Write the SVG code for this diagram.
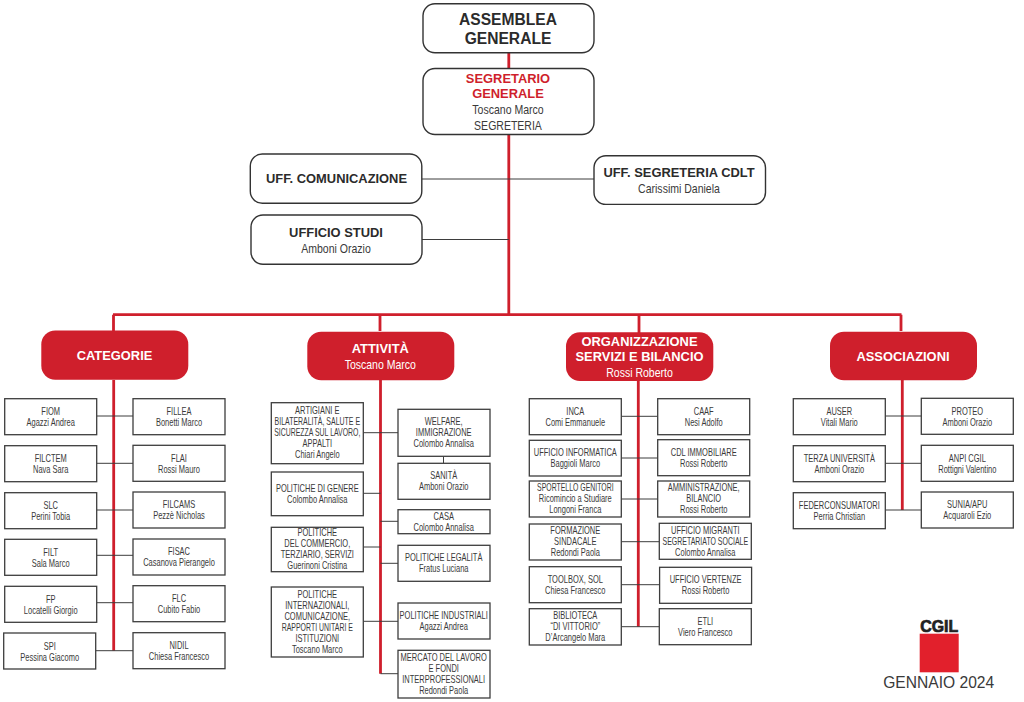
<svg xmlns="http://www.w3.org/2000/svg" width="1024" height="702" viewBox="0 0 1024 702">
<style>
text{font-family:"Liberation Sans",Arial,sans-serif;text-anchor:middle;fill:#3a3a3a}
.top{fill:#fff;stroke:#333;stroke-width:1.4}
.head{fill:#cf1f2c}
.box{fill:#fff;stroke:#3d3d3d;stroke-width:1.3}
.red{stroke:#cf1f2c;stroke-width:2.8;fill:none}
.thin{stroke:#3d3d3d;stroke-width:1;fill:none}
.s{font-size:10px}
.b{font-weight:bold;font-size:12.9px;fill:#2b2b2b}
.xb{font-weight:bold;font-size:15.6px;fill:#2b2b2b}
.n{font-size:13px}
.w{fill:#fff}
.r{fill:#cf1f2c}
</style>
<g id="connectors">
<path class="red" d="M508.8 52V314.7M113 314.7H901.5M113.5 314.7V331M380 314.7V331M639 314.7V333M901 314.7V331"/>
<path class="red" d="M113.7 380V650.7M380.5 380V673.7M638.3 381V626.7M902.3 380V510"/>
<path class="thin" d="M422 179H594M422 239.5H508.8"/>
<path class="thin" d="M96.7 416H133M96.7 463.3H133M96.7 510H133M96.7 555.3H133M96.7 602.7H133M95.7 650.7H133"/>
<path class="thin" d="M363.3 432.7H398M363.3 493.3H380.5M363.3 547H380.5M363.3 621.3H398M380.5 521.3H398M380.5 563.3H398M380.5 673.7H398M443.5 456.3V463.3"/>
<path class="thin" d="M621.3 416.3H657.7M621.3 458H657.7M621.3 499H657.7M621.3 541.7H659.3M621.3 584.7H659.6M621.3 626.7H659.3"/>
<path class="thin" d="M885.3 416H921.3M885.3 463.3H921.3M885.3 510H921.3"/>
</g>
<g id="assemblea"><rect class="top" x="423" y="3.7" width="171" height="49" rx="12"/><text class="xb" x="508" y="24.5">ASSEMBLEA</text><text class="xb" x="508" y="43.5">GENERALE</text></g>
<g id="segretario"><rect class="top" x="423" y="68.5" width="171" height="66" rx="12"/><text class="b r" x="508" y="82.7">SEGRETARIO</text><text class="b r" x="508" y="98.3">GENERALE</text><g transform="translate(508 0) scale(.81 1)"><text class="n" y="114.3">Toscano Marco</text><text class="n" y="130">SEGRETERIA</text></g></g>
<g id="uff-comunicazione"><rect class="top" x="250.3" y="154" width="171.5" height="49.3" rx="12"/><text class="b" x="336.5" y="183.3">UFF. COMUNICAZIONE</text></g>
<g id="uff-segreteria"><rect class="top" x="594" y="155.7" width="171.5" height="48.7" rx="12"/><text class="b" x="679" y="177.3">UFF. SEGRETERIA CDLT</text><g transform="translate(679 0) scale(.81 1)"><text class="n" y="192.7">Carissimi Daniela</text></g></g>
<g id="ufficio-studi"><rect class="top" x="251" y="215" width="171" height="49.3" rx="12"/><text class="b" x="336" y="236.7">UFFICIO STUDI</text><g transform="translate(336 0) scale(.81 1)"><text class="n" y="252.7">Amboni Orazio</text></g></g>

<g id="categorie"><rect class="head" x="41.3" y="330.5" width="147" height="49.3" rx="14"/><text class="b w" x="114.5" y="360">CATEGORIE</text></g>
<g id="attivita"><rect class="head" x="307.3" y="331.7" width="147" height="48.6" rx="14"/><text class="b w" x="380.3" y="353">ATTIVITÀ</text><g transform="translate(380.3 0) scale(.81 1)"><text class="n w" y="369">Toscano Marco</text></g></g>
<g id="organizzazione"><rect class="head" x="566" y="332.3" width="147.3" height="48.7" rx="14"/><text class="b w" x="639.5" y="346">ORGANIZZAZIONE</text><text class="b w" x="639.5" y="361.3">SERVIZI E BILANCIO</text><g transform="translate(639.5 0) scale(.81 1)"><text class="n w" y="377.3">Rossi Roberto</text></g></g>
<g id="associazioni"><rect class="head" x="830" y="331.7" width="147" height="48.6" rx="14"/><text class="b w" x="903" y="360.7">ASSOCIAZIONI</text></g>

<g id="fiom"><rect class="box" x="4.7" y="398.7" width="92" height="36"/><g transform="translate(50.7 0) scale(.75 1)"><text class="s" y="415">FIOM</text><text class="s" y="426">Agazzi Andrea</text></g></g>
<g id="filctem"><rect class="box" x="4.7" y="445.7" width="92" height="36"/><g transform="translate(50.7 0) scale(.75 1)"><text class="s" y="462">FILCTEM</text><text class="s" y="473">Nava Sara</text></g></g>
<g id="slc"><rect class="box" x="4.7" y="492.7" width="92" height="36"/><g transform="translate(50.7 0) scale(.75 1)"><text class="s" y="509">SLC</text><text class="s" y="520">Perini Tobia</text></g></g>
<g id="filt"><rect class="box" x="4.7" y="539.3" width="92" height="36"/><g transform="translate(50.7 0) scale(.75 1)"><text class="s" y="555.7">FILT</text><text class="s" y="566.7">Sala Marco</text></g></g>
<g id="fp"><rect class="box" x="4.7" y="586.3" width="92" height="36"/><g transform="translate(50.7 0) scale(.75 1)"><text class="s" y="602.7">FP</text><text class="s" y="613.7">Locatelli Giorgio</text></g></g>
<g id="spi"><rect class="box" x="3.7" y="633" width="92" height="36"/><g transform="translate(49.7 0) scale(.75 1)"><text class="s" y="649.7">SPI</text><text class="s" y="660.7">Pessina Giacomo</text></g></g>
<g id="fillea"><rect class="box" x="133" y="398.7" width="92" height="36"/><g transform="translate(179 0) scale(.75 1)"><text class="s" y="415">FILLEA</text><text class="s" y="426">Bonetti Marco</text></g></g>
<g id="flai"><rect class="box" x="133" y="445.3" width="92" height="36"/><g transform="translate(179 0) scale(.75 1)"><text class="s" y="461.7">FLAI</text><text class="s" y="472.7">Rossi Mauro</text></g></g>
<g id="filcams"><rect class="box" x="133" y="492" width="92" height="36"/><g transform="translate(179 0) scale(.75 1)"><text class="s" y="508.5">FILCAMS</text><text class="s" y="519.5">Pezzè Nicholas</text></g></g>
<g id="fisac"><rect class="box" x="133" y="539" width="92" height="36"/><g transform="translate(179 0) scale(.75 1)"><text class="s" y="555.3">FISAC</text><text class="s" y="566.3">Casanova Pierangelo</text></g></g>
<g id="flc"><rect class="box" x="133" y="585.7" width="92" height="36"/><g transform="translate(179 0) scale(.75 1)"><text class="s" y="602">FLC</text><text class="s" y="613">Cubito Fabio</text></g></g>
<g id="nidil"><rect class="box" x="133" y="632.7" width="92" height="36"/><g transform="translate(179 0) scale(.75 1)"><text class="s" y="649">NIDIL</text><text class="s" y="660">Chiesa Francesco</text></g></g>

<g id="artigiani"><rect class="box" x="271.3" y="402.7" width="92" height="61"/><g transform="translate(317.3 0) scale(.75 1)"><text class="s" y="414.3">ARTIGIANI E</text><text class="s" y="425.3" textLength="114" lengthAdjust="spacingAndGlyphs">BILATERALITÀ, SALUTE E</text><text class="s" y="436.3" textLength="115" lengthAdjust="spacingAndGlyphs">SICUREZZA SUL LAVORO,</text><text class="s" y="447.3">APPALTI</text><text class="s" y="458.3">Chiari Angelo</text></g></g>
<g id="politiche-genere"><rect class="box" x="271.3" y="472" width="92" height="43.7"/><g transform="translate(317.3 0) scale(.75 1)"><text class="s" y="491.7">POLITICHE DI GENERE</text><text class="s" y="502.7">Colombo Annalisa</text></g></g>
<g id="politiche-commercio"><rect class="box" x="271.3" y="527.3" width="92" height="44.4"/><g transform="translate(317.3 0) scale(.75 1)"><text class="s" y="536.3">POLITICHE</text><text class="s" y="547.3">DEL COMMERCIO,</text><text class="s" y="558.3">TERZIARIO, SERVIZI</text><text class="s" y="569.3">Guerinoni Cristina</text></g></g>
<g id="politiche-internazionali"><rect class="box" x="271.3" y="587" width="92" height="70"/><g transform="translate(317.3 0) scale(.75 1)"><text class="s" y="597.7">POLITICHE</text><text class="s" y="608.7">INTERNAZIONALI,</text><text class="s" y="619.7">COMUNICAZIONE,</text><text class="s" y="630.7" textLength="95" lengthAdjust="spacingAndGlyphs">RAPPORTI UNITARI E</text><text class="s" y="641.7">ISTITUZIONI</text><text class="s" y="652.7">Toscano Marco</text></g></g>
<g id="welfare"><rect class="box" x="398" y="409.3" width="92" height="47"/><g transform="translate(443.7 0) scale(.75 1)"><text class="s" y="425">WELFARE,</text><text class="s" y="436">IMMIGRAZIONE</text><text class="s" y="447">Colombo Annalisa</text></g></g>
<g id="sanita"><rect class="box" x="398" y="463.3" width="92" height="36"/><g transform="translate(443.7 0) scale(.75 1)"><text class="s" y="479">SANITÀ</text><text class="s" y="490">Amboni Orazio</text></g></g>
<g id="casa"><rect class="box" x="398" y="509.7" width="92" height="24"/><g transform="translate(443.7 0) scale(.75 1)"><text class="s" y="519.7">CASA</text><text class="s" y="530.7">Colombo Annalisa</text></g></g>
<g id="legalita"><rect class="box" x="398" y="545.3" width="92" height="36"/><g transform="translate(443.7 0) scale(.75 1)"><text class="s" y="561.3">POLITICHE LEGALITÀ</text><text class="s" y="572.3">Fratus Luciana</text></g></g>
<g id="industriali"><rect class="box" x="398" y="603" width="92" height="36"/><g transform="translate(443.7 0) scale(.75 1)"><text class="s" y="618.7">POLITICHE INDUSTRIALI</text><text class="s" y="630">Agazzi Andrea</text></g></g>
<g id="mercato"><rect class="box" x="398" y="650.3" width="92" height="47.7"/><g transform="translate(443.7 0) scale(.75 1)"><text class="s" y="660.7" textLength="115" lengthAdjust="spacingAndGlyphs">MERCATO DEL LAVORO</text><text class="s" y="671.7">E FONDI</text><text class="s" y="682.7">INTERPROFESSIONALI</text><text class="s" y="693.7">Redondi Paola</text></g></g>

<g id="inca"><rect class="box" x="529.3" y="398.7" width="92" height="36"/><g transform="translate(575.3 0) scale(.75 1)"><text class="s" y="415">INCA</text><text class="s" y="426">Comi Emmanuele</text></g></g>
<g id="informatica"><rect class="box" x="529.3" y="440.3" width="92" height="35.7"/><g transform="translate(575.3 0) scale(.75 1)"><text class="s" y="456">UFFICIO INFORMATICA</text><text class="s" y="467">Baggioli Marco</text></g></g>
<g id="sportello"><rect class="box" x="529.3" y="481" width="92" height="36"/><g transform="translate(575.3 0) scale(.75 1)"><text class="s" y="491" textLength="102" lengthAdjust="spacingAndGlyphs">SPORTELLO GENITORI</text><text class="s" y="502">Ricomincio a Studiare</text><text class="s" y="513">Longoni Franca</text></g></g>
<g id="formazione"><rect class="box" x="529.3" y="524" width="92" height="36"/><g transform="translate(575.3 0) scale(.75 1)"><text class="s" y="534.3">FORMAZIONE</text><text class="s" y="545.3">SINDACALE</text><text class="s" y="556.3">Redondi Paola</text></g></g>
<g id="toolbox"><rect class="box" x="529.3" y="566.7" width="92" height="36"/><g transform="translate(575.3 0) scale(.75 1)"><text class="s" y="582.7">TOOLBOX, SOL</text><text class="s" y="593.7">Chiesa Francesco</text></g></g>
<g id="biblioteca"><rect class="box" x="529.3" y="608.7" width="92" height="36.3"/><g transform="translate(575.3 0) scale(.75 1)"><text class="s" y="619">BIBLIOTECA</text><text class="s" y="630">“DI VITTORIO”</text><text class="s" y="641">D’Arcangelo Mara</text></g></g>
<g id="caaf"><rect class="box" x="657.7" y="398.7" width="92" height="36"/><g transform="translate(703.7 0) scale(.75 1)"><text class="s" y="415">CAAF</text><text class="s" y="426">Nesi Adolfo</text></g></g>
<g id="immobiliare"><rect class="box" x="657.7" y="439.7" width="92" height="36"/><g transform="translate(703.7 0) scale(.75 1)"><text class="s" y="455.7">CDL IMMOBILIARE</text><text class="s" y="466.7">Rossi Roberto</text></g></g>
<g id="amministrazione"><rect class="box" x="657.7" y="481" width="92" height="36"/><g transform="translate(703.7 0) scale(.75 1)"><text class="s" y="491">AMMINISTRAZIONE,</text><text class="s" y="502">BILANCIO</text><text class="s" y="513">Rossi Roberto</text></g></g>
<g id="migranti"><rect class="box" x="659.3" y="523.3" width="92" height="36"/><g transform="translate(705.3 0) scale(.75 1)"><text class="s" y="534">UFFICIO MIGRANTI</text><text class="s" y="545" textLength="114" lengthAdjust="spacingAndGlyphs">SEGRETARIATO SOCIALE</text><text class="s" y="556">Colombo Annalisa</text></g></g>
<g id="vertenze"><rect class="box" x="659.6" y="567.3" width="92" height="36"/><g transform="translate(705.6 0) scale(.75 1)"><text class="s" y="583.3">UFFICIO VERTENZE</text><text class="s" y="594.3">Rossi Roberto</text></g></g>
<g id="etli"><rect class="box" x="659.3" y="608.7" width="92" height="36"/><g transform="translate(705.3 0) scale(.75 1)"><text class="s" y="625">ETLI</text><text class="s" y="636">Viero Francesco</text></g></g>

<g id="auser"><rect class="box" x="793.3" y="398.7" width="92" height="36"/><g transform="translate(839.3 0) scale(.75 1)"><text class="s" y="415">AUSER</text><text class="s" y="426">Vitali Mario</text></g></g>
<g id="terza"><rect class="box" x="793.3" y="445.7" width="92" height="36"/><g transform="translate(839.3 0) scale(.75 1)"><text class="s" y="462">TERZA UNIVERSITÀ</text><text class="s" y="473">Amboni Orazio</text></g></g>
<g id="federconsumatori"><rect class="box" x="793.3" y="492.7" width="92" height="36"/><g transform="translate(839.3 0) scale(.75 1)"><text class="s" y="509">FEDERCONSUMATORI</text><text class="s" y="520">Perria Christian</text></g></g>
<g id="proteo"><rect class="box" x="921.3" y="398.3" width="92" height="36"/><g transform="translate(967.3 0) scale(.75 1)"><text class="s" y="415">PROTEO</text><text class="s" y="426">Amboni Orazio</text></g></g>
<g id="anpi"><rect class="box" x="921.3" y="445.3" width="92" height="36"/><g transform="translate(967.3 0) scale(.75 1)"><text class="s" y="461.7">ANPI CGIL</text><text class="s" y="472.7">Rottigni Valentino</text></g></g>
<g id="sunia"><rect class="box" x="921.3" y="492" width="92" height="36"/><g transform="translate(967.3 0) scale(.75 1)"><text class="s" y="508.5">SUNIA/APU</text><text class="s" y="519.5">Acquaroli Ezio</text></g></g>

<g id="logo">
<text x="939.2" y="631.7" font-size="16" font-weight="bold" textLength="38" lengthAdjust="spacingAndGlyphs" style="fill:#222;stroke:#222;stroke-width:.7">CGIL</text>
<rect x="919.7" y="633.7" width="39" height="38.6" fill="#e2202c"/>
<text x="938.7" y="688.3" font-size="16.3" textLength="111" lengthAdjust="spacingAndGlyphs" style="fill:#3a3a3a">GENNAIO 2024</text>
</g>
</svg>
